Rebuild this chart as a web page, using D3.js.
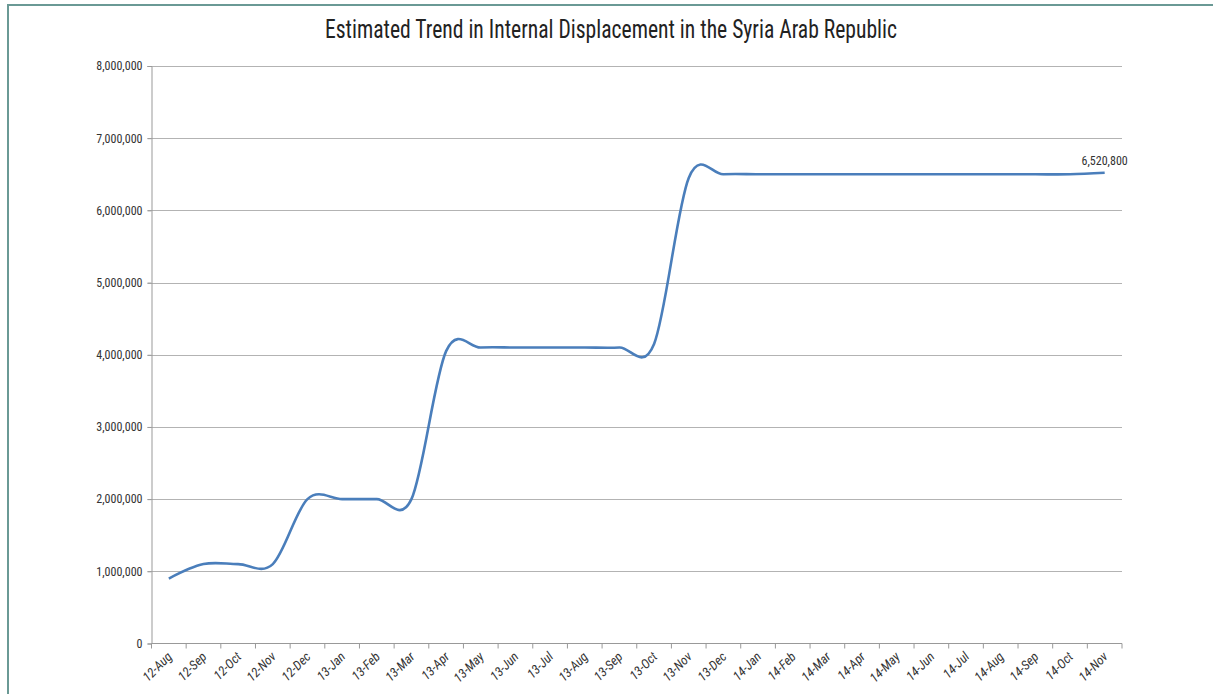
<!DOCTYPE html>
<html>
<head>
<meta charset="utf-8">
<script src="https://cdn.jsdelivr.net/npm/d3@7"></script>
<style>
  body { margin: 0; background: #fff; }
  svg { display: block; }
  text { font-family: "Liberation Sans Narrow", "Roboto Condensed", "DejaVu Sans Condensed", sans-serif; fill: #333; }
</style>
</head>
<body>
<div id="chart"></div>
<script>
// datos
var months = ["12-Aug","12-Sep","12-Oct","12-Nov","12-Dec","13-Jan","13-Feb","13-Mar","13-Apr","13-May",
  "13-Jun","13-Jul","13-Aug","13-Sep","13-Oct","13-Nov","13-Dec","14-Jan","14-Feb","14-Mar","14-Apr",
  "14-May","14-Jun","14-Jul","14-Aug","14-Sep","14-Oct","14-Nov"];
var idps = [900000,1100000,1100000,1100000,2000000,2000000,2000000,2000000,4050000,4100000,
  4100000,4100000,4100000,4100000,4150000,6450000,6500000,6500000,6500000,6500000,6500000,
  6500000,6500000,6500000,6500000,6500000,6500000,6520800];
var yTicks = [0,1000000,2000000,3000000,4000000,5000000,6000000,7000000,8000000];
var title = "Estimated Trend in Internal Displacement in the Syria Arab Republic";

var width = 1213, height = 694;
var svg = d3.select("#chart").append("svg")
  .attr("width", width)
  .attr("height", height);

// borde
svg.append("rect")
  .attr("x", 8).attr("y", 5)
  .attr("width", 1220).attr("height", 700)
  .attr("fill", "none")
  .attr("stroke", "#6a9995")
  .attr("stroke-width", 2);

var plotLeft = 151.5, plotRight = 1122, plotTop = 66, plotBottom = 643.5;

var x = d3.scaleBand().domain(months).range([plotLeft, plotRight]).padding(0);
var y = d3.scaleLinear().domain([0, 8000000]).range([plotBottom, plotTop]);

// titulo
svg.append("text")
  .attr("x", 611).attr("y", 38)
  .attr("text-anchor", "middle")
  .attr("font-size", 25)
  .attr("textLength", 572)
  .attr("lengthAdjust", "spacingAndGlyphs")
  .style("fill", "#222")
  .text(title);

// rejilla
svg.append("g").selectAll("line")
  .data(yTicks.slice(1))
  .enter().append("line")
  .attr("x1", plotLeft - 4).attr("x2", plotRight)
  .attr("y1", function(d) { return Math.round(y(d)) + 0.5; })
  .attr("y2", function(d) { return Math.round(y(d)) + 0.5; })
  .attr("stroke", "#b3b3b3")
  .attr("stroke-width", 1.2);

// eje y
var yAxis = d3.axisLeft(y).tickValues(yTicks).tickSize(4).tickFormat(d3.format(","));
var gy = svg.append("g")
  .attr("transform", "translate(" + plotLeft + ",0)")
  .call(yAxis);
gy.select(".domain").attr("stroke", "#999");
gy.selectAll(".tick line").attr("stroke", "#999");
gy.selectAll(".tick text").attr("font-size", 12).attr("x", -9).style("fill", "#333");

// eje x
var bounds = months.map(function(m) { return x(m); }).concat([plotRight]);
svg.append("line")
  .attr("x1", plotLeft).attr("x2", plotRight)
  .attr("y1", plotBottom).attr("y2", plotBottom)
  .attr("stroke", "#999").attr("stroke-width", 1.2);
svg.append("g").selectAll("line")
  .data(bounds)
  .enter().append("line")
  .attr("x1", function(d) { return d; }).attr("x2", function(d) { return d; })
  .attr("y1", plotBottom).attr("y2", plotBottom + 5)
  .attr("stroke", "#999");

svg.append("g").selectAll("text")
  .data(months)
  .enter().append("text")
  .attr("transform", function(d) {
    return "translate(" + (x(d) + x.bandwidth() / 2 + 4) + "," + (plotBottom + 14) + ") rotate(-45)";
  })
  .attr("text-anchor", "end")
  .attr("font-size", 13)
  .style("font-style", "italic")
  .text(function(d) { return d; });

// linea suavizada
var line = d3.line()
  .x(function(d, i) { return x(months[i]) + x.bandwidth() / 2; })
  .y(function(d) { return y(d); })
  .curve(d3.curveCardinal.tension(0));

svg.append("path")
  .datum(idps)
  .attr("d", line)
  .attr("fill", "none")
  .attr("stroke", "#4a7ebb")
  .attr("stroke-width", 2.6);

// etiqueta final
var last = idps.length - 1;
svg.append("text")
  .attr("x", x(months[last]) + x.bandwidth() / 2)
  .attr("y", y(idps[last]) - 8)
  .attr("text-anchor", "middle")
  .attr("font-size", 12)
  .text(d3.format(",")(idps[last]));
</script>
</body>
</html>
